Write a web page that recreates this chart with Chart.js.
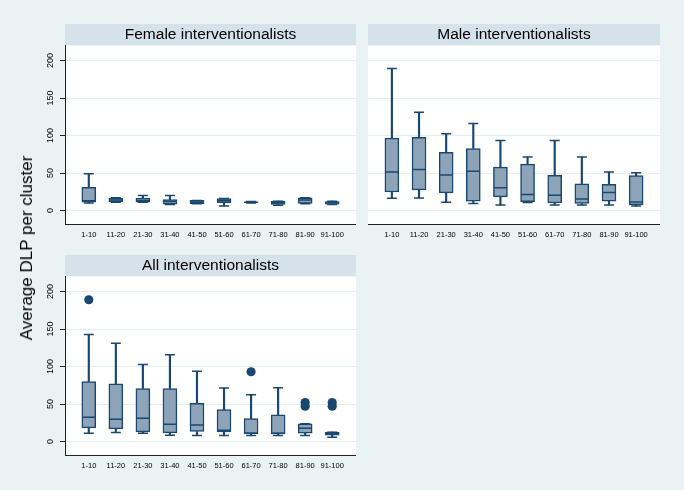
<!DOCTYPE html>
<html>
<head>
<meta charset="utf-8">
<script src="https://cdn.jsdelivr.net/npm/chart.js@4.4.0/dist/chart.umd.min.js"></script>
<style>
  body { margin: 0; background: rgb(234,242,243); width: 684px; height: 490px; overflow: hidden; position: relative; font-family: 'Liberation Sans', Arial, sans-serif; }
  .panel { position: absolute; }
  #ytitle { position: absolute; left: 27px; top: 248px; transform: translate(-50%, -50%) rotate(-90deg); font-size: 17px; white-space: nowrap; color: #000; }
</style>
</head>
<body>
<div class="panel" style="left:0;top:20px;width:356px;height:230px"><canvas id="female"></canvas></div>
<div class="panel" style="left:368px;top:20px;width:292px;height:230px"><canvas id="male"></canvas></div>
<div class="panel" style="left:0;top:251px;width:356px;height:230px"><canvas id="all"></canvas></div>
<div id="ytitle">Average DLP per cluster</div>
<script>
// clusters of procedures
const categories = ['1-10', '11-20', '21-30', '31-40', '41-50', '51-60', '61-70', '71-80', '81-90', '91-100'];
const yTicks = [0, 50, 100, 150, 200];

// female
const femaleLow  = [10, 11, 11, 8, 9, 6, 10, 7, 9, 8];
const femaleQ1   = [11, 11.5, 11, 8.5, 9, 10.5, 10.5, 8, 9.5, 8.5];
const femaleMed  = [13, 14, 13.5, 12, 11, 13, 11, 10.5, 14, 10.5];
const femaleQ3   = [31, 16.5, 16.5, 14.5, 13.5, 16, 11.5, 12.5, 17, 12];
const femaleHigh = [49, 17, 20, 20, 13.5, 16, 12, 12.5, 17, 12.5];

// male
const maleLow  = [16.3, 16.8, 11, 9.3, 7.5, 10.6, 7.5, 7.5, 7.5, 6.1];
const maleQ1   = [24.7, 27.4, 23.4, 12.3, 18.1, 11.9, 10.1, 9.3, 12.3, 7.5];
const maleMed  = [51.3, 54.8, 47.3, 52.2, 30.5, 21.2, 20.3, 15.4, 23.9, 11.4];
const maleQ3   = [96.4, 97.7, 77.4, 82.7, 57.9, 61.9, 46.9, 35.4, 34.9, 46.4];
const maleHigh = [189.3, 130.9, 102.2, 115.9, 93.3, 71.2, 93.3, 71.2, 51.3, 50.4];

// all
const allLow  = [11.1, 11.9, 11.1, 8.4, 8, 8, 8, 8, 8, 5.7];
const allQ1   = [18.1, 16.8, 12.8, 11.5, 13.3, 12.8, 10.5, 10.2, 11, 8.4];
const allMed  = [32.3, 29.6, 30.9, 23, 22.1, 15, 11, 11, 17.7, 11];
const allQ3   = [80, 76.9, 70.7, 70.7, 50.8, 42.4, 30.5, 35.4, 23.6, 12.4];
const allHigh = [142.8, 130.9, 102.6, 115.8, 93.7, 71.2, 62.3, 71.6, 23.6, 12.4];
const allOutCat = ['1-10', '61-70', '81-90', '81-90', '91-100', '91-100'];
const allOutVal = [189, 93, 52, 47, 52, 47];

const navy = 'rgb(26,71,111)';
const boxFill = 'rgb(141,163,184)';
const gridCol = 'rgb(228,236,240)';
const axisCol = '#222';

Chart.defaults.font.family = "'Liberation Sans', Arial, sans-serif";
Chart.defaults.color = '#000';

const bandPlugin = {
  id: 'band',
  beforeDraw(chart) {
    const ctx = chart.ctx, a = chart.chartArea, t = chart.titleBlock;
    ctx.save();
    ctx.fillStyle = 'rgb(214,226,233)';
    ctx.fillRect(a.left, t.top, a.right - a.left, t.bottom - t.top);
    ctx.fillStyle = '#fff';
    ctx.fillRect(a.left, a.top, a.right - a.left, a.bottom - a.top);
    ctx.restore();
  }
};

function pts(vals) {
  return vals.map((v, i) => ({ x: i + 1, y: v }));
}

function boxDatasets(low, q1, med, q3, high, outCat, outVal) {
  const sets = [
    { type: 'bar', data: categories.map((c, i) => ({ x: i + 1, y: [q1[i], q3[i]] })),
      backgroundColor: boxFill, borderColor: navy, borderWidth: 1.5, borderSkipped: false,
      barThickness: 14, grouped: false, order: 2 },
    { type: 'bar', data: categories.map((c, i) => ({ x: i + 1, y: [q3[i], high[i]] })),
      backgroundColor: navy, borderWidth: 0, barThickness: 1.5, grouped: false, order: 3 },
    { type: 'bar', data: categories.map((c, i) => ({ x: i + 1, y: [low[i], q1[i]] })),
      backgroundColor: navy, borderWidth: 0, barThickness: 1.5, grouped: false, order: 3 },
    { type: 'line', showLine: false, data: pts(med), pointStyle: 'line', pointRadius: 6.3,
      pointBorderWidth: 1.5, pointBorderColor: navy, order: 1 },
    { type: 'line', showLine: false, data: pts(high), pointStyle: 'line', pointRadius: 5,
      pointBorderWidth: 1.5, pointBorderColor: navy, order: 1 },
    { type: 'line', showLine: false, data: pts(low), pointStyle: 'line', pointRadius: 5,
      pointBorderWidth: 1.5, pointBorderColor: navy, order: 1 }
  ];
  if (outCat) {
    sets.push({ type: 'line', showLine: false,
      data: outCat.map((c, i) => ({ x: categories.indexOf(c) + 1, y: outVal[i] })),
      pointStyle: 'circle', pointRadius: 4.6, pointBackgroundColor: navy, pointBorderWidth: 0, order: 0 });
  }
  return sets;
}

function makeChart(id, title, sets, showY) {
  new Chart(document.getElementById(id), {
    type: 'bar',
    data: { datasets: sets },
    options: {
      responsive: true,
      maintainAspectRatio: false,
      animation: false,
      layout: { autoPadding: false, padding: { top: 4, left: 0, right: 0, bottom: 0 } },
      plugins: {
        legend: { display: false },
        tooltip: { enabled: false },
        title: {
          display: true, text: title, fullSize: false, color: '#000',
          font: { size: 15.5, weight: 'normal', lineHeight: 1 },
          padding: { top: 3, bottom: 3 }
        }
      },
      scales: {
        x: {
          type: 'linear', min: 0.12, max: 10.88, offset: false,
          grid: { display: false, drawTicks: false, offset: false },
          border: { display: true, color: axisCol, width: 1 },
          afterBuildTicks: s => { s.ticks = categories.map((c, i) => ({ value: i + 1 })); },
          afterFit: s => { s.height = 26; },
          ticks: { autoSkip: false, maxRotation: 0, padding: 6, font: { size: 7.5 },
            callback: v => categories[v - 1] }
        },
        y: {
          type: 'linear', min: -18, max: 220,
          afterBuildTicks: s => { s.ticks = yTicks.map(v => ({ value: v })); },
          afterFit: s => { s.width = showY ? 65 : 0; },
          grid: { color: gridCol, lineWidth: 1, drawTicks: showY, tickLength: 5, tickColor: axisCol },
          border: { display: showY, color: axisCol, width: 1 },
          ticks: { display: showY, minRotation: 90, maxRotation: 90, crossAlign: 'center',
            padding: 2, font: { size: 9 } }
        }
      }
    },
    plugins: [bandPlugin]
  });
}

makeChart('female', 'Female interventionalists',
  boxDatasets(femaleLow, femaleQ1, femaleMed, femaleQ3, femaleHigh), true);
makeChart('male', 'Male interventionalists',
  boxDatasets(maleLow, maleQ1, maleMed, maleQ3, maleHigh), false);
makeChart('all', 'All interventionalists',
  boxDatasets(allLow, allQ1, allMed, allQ3, allHigh, allOutCat, allOutVal), true);
</script>
</body>
</html>
